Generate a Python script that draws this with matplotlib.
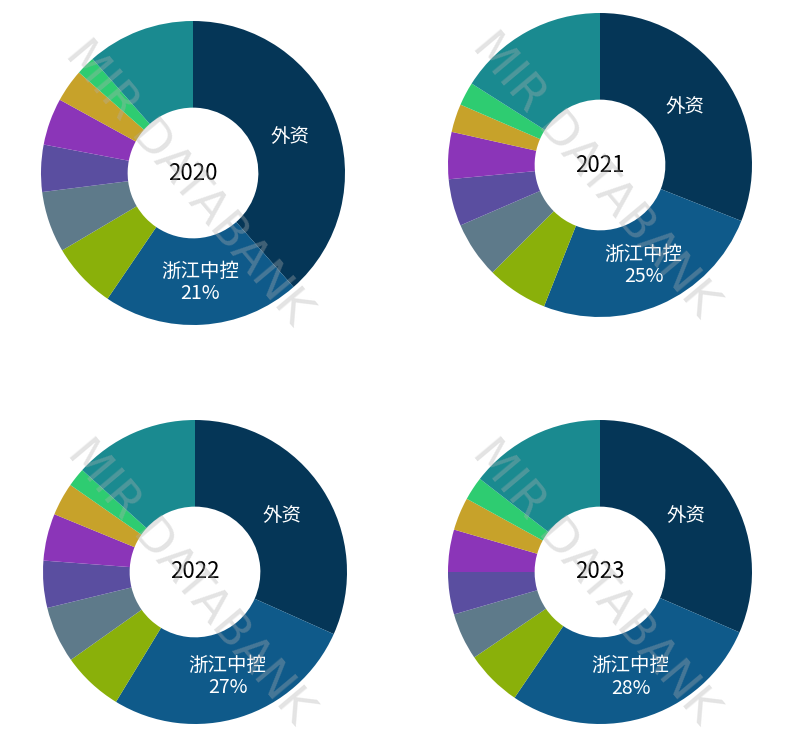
import numpy as np
import matplotlib.pyplot as plt

cjk = 'Noto Sans CJK JP'

years = ['2020', '2021', '2022', '2023']
segments = ['外资', '浙江中控', 'g1', 'g2', 'g3', 'g4', 'g5', 'g6', 'g7']
shares = {
    '2020': [38.5, 21, 7, 6.5, 5, 5, 3.5, 2, 11.5],
    '2021': [31, 25, 6.5, 6, 5, 5, 3, 2.5, 16],
    '2022': [31.7, 27, 6.5, 6, 5, 5, 3.5, 2, 13.3],
    '2023': [31.5, 28, 6, 5, 4.5, 4.5, 3.5, 2.5, 14.5],
}
colors = ['#053657', '#0f5a8a', '#8ab00a', '#5e7a8a', '#5a4ea0',
          '#8b35b8', '#c7a22a', '#2ecc71', '#1a8a90']

W, H = 788, 745
fig = plt.figure(figsize=(W / 100, H / 100), dpi=100)
centers = [(193, 173), (600, 165), (195, 572), (600, 572)]
R = 152

for yr, (cx, cy) in zip(years, centers):
    ax = fig.add_axes([(cx - R) / W, 1 - (cy + R) / H, 2 * R / W, 2 * R / H])
    vals = shares[yr]
    ax.pie(vals, colors=colors, startangle=90, counterclock=False,
           radius=1, wedgeprops=dict(width=0.57, edgecolor='none'))
    ax.set_xlim(-1, 1)
    ax.set_ylim(-1, 1)
    ax.set_aspect('equal')
    ax.axis('off')
    ax.text(0, 0, yr, ha='center', va='center', fontsize=16, color='black',
            fontfamily=cjk)
    cum = np.cumsum([0] + vals)
    for i in range(2):
        mid = (cum[i] + cum[i + 1]) / 2 / 100 * 2 * np.pi
        r = 0.68 if i == 0 else 0.72
        x, y = r * np.sin(mid), r * np.cos(mid)
        txt = segments[i] if i == 0 else f'{segments[i]}\n{vals[i]:.0f}%'
        ax.text(x, y, txt, ha='center', va='center', fontsize=14,
                color='white', linespacing=1.1, fontfamily=cjk)
    fig.text((cx - 5) / W, 1 - (cy + 10) / H, 'MIR DATABANK', rotation=-50,
             ha='center', va='center', fontsize=34, color='#b0b0b0',
             alpha=0.35, fontfamily='DejaVu Sans', zorder=10)

fig.savefig('out.png', dpi=100)
